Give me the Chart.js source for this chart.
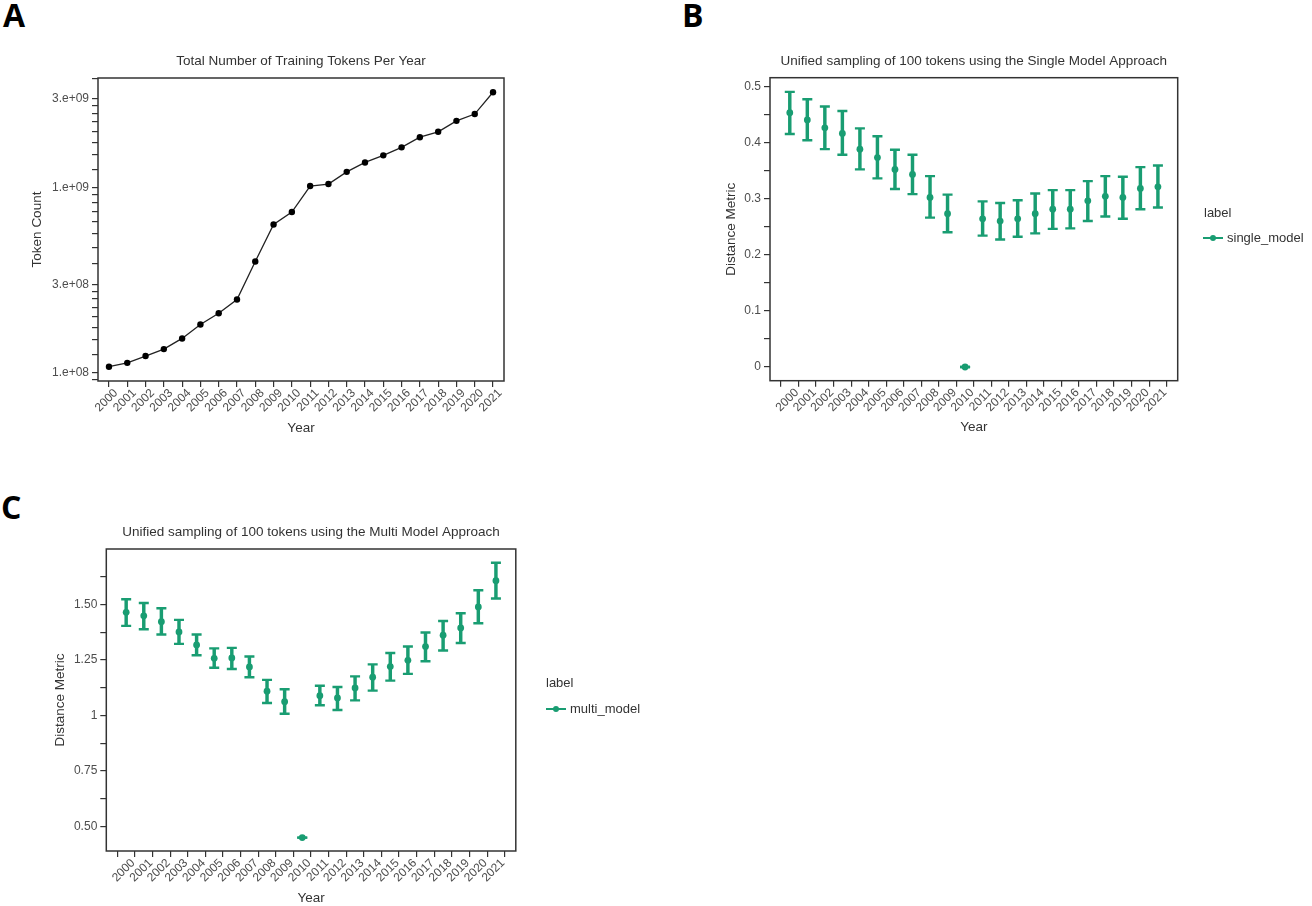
<!DOCTYPE html>
<html>
<head>
<meta charset="utf-8">
<script src="https://cdn.jsdelivr.net/npm/chart.js@4.4.1/dist/chart.umd.min.js"></script>
<style>
body{margin:0;width:1312px;height:906px;background:#fff;position:relative;overflow:hidden;font-family:"Liberation Sans",Arial,sans-serif}
canvas{position:absolute}
.tag{position:absolute;font:bold 32px "Open Sans",sans-serif;line-height:32px;color:#000}
.lgt{position:absolute;font-size:13px;line-height:16px;color:#333;white-space:nowrap}
.sw{position:absolute;height:1.5px;width:20px;background:#199d72}
.dot{position:absolute;width:6px;height:6px;border-radius:50%;background:#199d72}
</style>
</head>
<body>
<div class="tag" style="left:3px;top:-1px">A</div>
<div class="tag" style="left:682px;top:-1px">B</div>
<div class="tag" style="left:1px;top:491px">C</div>

<canvas id="chartA" width="588" height="400" style="left:0;top:40px"></canvas>
<canvas id="chartB" width="534" height="400" style="left:700px;top:40px"></canvas>
<canvas id="chartC" width="609" height="406" style="left:0;top:500px"></canvas>

<div class="lgt" style="left:1204px;top:205px">label</div>
<div class="sw" style="left:1203px;top:237px"></div>
<div class="dot" style="left:1210px;top:235px"></div>
<div class="lgt" style="left:1227px;top:230px">single_model</div>

<div class="lgt" style="left:546px;top:675px">label</div>
<div class="sw" style="left:546px;top:708px"></div>
<div class="dot" style="left:553px;top:706px"></div>
<div class="lgt" style="left:570px;top:701px">multi_model</div>

<script>
// ---- data ----
const years=['2000','2001','2002','2003','2004','2005','2006','2007','2008','2009','2010',
  '2011','2012','2013','2014','2015','2016','2017','2018','2019','2020','2021'];

// A: total training tokens per year (log axis)
const tokenCounts=[1.077e8,1.13e8,1.23e8,1.34e8,1.53e8,1.82e8,2.09e8,2.48e8,3.98e8,6.29e8,7.35e8,
  1.015e9,1.04e9,1.21e9,1.36e9,1.485e9,1.64e9,1.86e9,1.99e9,2.28e9,2.48e9,3.25e9];
const tokenMajorTicks=[1e8,3e8,1e9,3e9];
const tokenTickLabels=['1.e+08','3.e+08','1.e+09','3.e+09'];
const tokenMinorTicks=[9.125e7,1.25e8,1.5e8,1.75e8,2e8,2.25e8,2.5e8,2.75e8,
  3.875e8,4.75e8,5.625e8,6.5e8,7.375e8,8.25e8,9.125e8,
  1.25e9,1.5e9,1.75e9,2e9,2.25e9,2.5e9,2.75e9,3.875e9];

// B: single model approach, mean with error interval
const singleMean=[0.453,0.440,0.426,0.416,0.388,0.373,0.352,0.343,0.302,0.273,0,
  0.264,0.260,0.264,0.273,0.281,0.281,0.296,0.304,0.302,0.318,0.321];
const singleLow=[0.415,0.404,0.388,0.378,0.352,0.336,0.317,0.308,0.266,0.240,0,
  0.234,0.227,0.232,0.238,0.246,0.247,0.260,0.268,0.264,0.281,0.284];
const singleHigh=[0.490,0.477,0.464,0.456,0.425,0.411,0.387,0.378,0.340,0.307,0,
  0.295,0.292,0.297,0.309,0.315,0.315,0.331,0.340,0.339,0.356,0.359];
const singleMajorTicks=[0,0.1,0.2,0.3,0.4,0.5];
const singleTickLabels=['0','0.1','0.2','0.3','0.4','0.5'];
const singleMinorTicks=[0.05,0.15,0.25,0.35,0.45];

// C: multi model approach, mean with error interval
const multiMean=[1.464,1.448,1.422,1.376,1.317,1.257,1.259,1.218,1.109,1.062,0.451,
  1.089,1.079,1.124,1.172,1.220,1.248,1.310,1.361,1.394,1.488,1.606];
const multiLow=[1.403,1.388,1.364,1.322,1.271,1.215,1.209,1.172,1.056,1.008,0.451,
  1.046,1.025,1.068,1.112,1.157,1.187,1.244,1.292,1.326,1.415,1.526];
const multiHigh=[1.523,1.506,1.482,1.430,1.364,1.302,1.304,1.265,1.160,1.118,0.451,
  1.134,1.128,1.176,1.230,1.281,1.310,1.373,1.425,1.460,1.563,1.687];
const multiMajorTicks=[0.5,0.75,1,1.25,1.5];
const multiTickLabels=['0.50','0.75','1','1.25','1.50'];
const multiMinorTicks=[0.625,0.875,1.125,1.375,1.625];

// ---- styling ----
const INK='#333',TICK='#4d4d4d',GREEN='#199d72';
Chart.defaults.font.family='"Liberation Sans", Arial, sans-serif';
Chart.defaults.font.size=12;
Chart.defaults.color=TICK;
Chart.defaults.animation=false;

const frame={id:'frame',afterDatasetsDraw(c){
  const {ctx,chartArea:a}=c;
  ctx.save();ctx.strokeStyle=INK;ctx.lineWidth=1.5;
  ctx.strokeRect(a.left,a.top,a.right-a.left,a.bottom-a.top);
  ctx.restore();
}};

function yearAxis(){
  return {type:'linear',min:-0.6,max:21.6,bounds:'data',
    afterBuildTicks:s=>{s.ticks=years.map((_,i)=>({value:i}));},
    afterFit:s=>{s.height=55;},
    ticks:{autoSkip:false,minRotation:45,maxRotation:45,labelOffset:7,padding:-1,
      callback:v=>years[v]??''},
    grid:{drawOnChartArea:false,tickLength:6,color:INK,lineWidth:1.2},
    border:{display:false},
    title:{display:true,text:'Year',color:INK,font:{size:13.5},padding:0}};
}

function valueAxis(type,min,max,majors,labels,minors,width,text){
  return {type,min,max,bounds:'data',
    afterBuildTicks:s=>{s.ticks=majors.concat(minors).sort((a,b)=>a-b).map(v=>({value:v}));},
    afterFit:s=>{s.width=width;},
    ticks:{autoSkip:false,padding:3,callback:v=>{
      const i=majors.findIndex(m=>Math.abs(m-v)<=Math.abs(m)*1e-6+1e-9);
      return i<0?'':labels[i];}},
    grid:{drawOnChartArea:false,tickLength:6,color:INK,lineWidth:1.2},
    border:{display:false},
    title:{display:true,text,color:INK,font:{size:13.5},padding:{top:4,bottom:4}}};
}

function plugins(text,top,bottom){
  return {title:{display:true,fullSize:false,text,color:INK,font:{size:13.5,weight:'normal'},padding:{top,bottom}},
    legend:{display:false},tooltip:{enabled:false}};
}

// A
new Chart(document.getElementById('chartA'),{
  type:'line',
  data:{datasets:[{data:tokenCounts.map((v,i)=>({x:i,y:v})),borderColor:'#222',borderWidth:1.3,
    pointRadius:3.2,pointBackgroundColor:'#000',pointBorderWidth:0,tension:0}]},
  options:{responsive:false,
    layout:{padding:{left:24.7,right:84,top:0,bottom:4}},
    scales:{x:yearAxis(),
      y:valueAxis('logarithmic',9.02e7,3.88e9,tokenMajorTicks,tokenTickLabels,tokenMinorTicks,73.3,'Token Count')},
    plugins:plugins('Total Number of Training Tokens Per Year',13.6,8.2)},
  plugins:[frame]
});

function errorChart(id,mean,low,high,yAxis,padding,text,tTop,tBottom){
  const pts=a=>a.map((v,i)=>({x:i,y:v}));
  return new Chart(document.getElementById(id),{
    type:'scatter',
    data:{datasets:[
      {type:'bar',data:years.map((_,i)=>({x:i,y:[low[i],high[i]]})),backgroundColor:GREEN,barThickness:2.8},
      {data:pts(high),pointStyle:'line',pointRadius:5,borderColor:GREEN,borderWidth:2.4},
      {data:pts(low),pointStyle:'line',pointRadius:5,borderColor:GREEN,borderWidth:2.4},
      {data:pts(mean),pointRadius:3.4,backgroundColor:GREEN,borderWidth:0}
    ]},
    options:{responsive:false,layout:{padding},
      scales:{x:yearAxis(),y:yAxis},
      plugins:plugins(text,tTop,tBottom)},
    plugins:[frame]
  });
}

// B
errorChart('chartB',singleMean,singleLow,singleHigh,
  valueAxis('linear',-0.0244,0.5153,singleMajorTicks,singleTickLabels,singleMinorTicks,50.8,'Distance Metric'),
  {left:19.2,right:56.3,top:0,bottom:4.3},
  'Unified sampling of 100 tokens using the Single Model Approach',13.6,7.9);

// C
errorChart('chartC',multiMean,multiLow,multiHigh,
  valueAxis('linear',0.3907,1.7487,multiMajorTicks,multiTickLabels,multiMinorTicks,58.4,'Distance Metric'),
  {left:47.9,right:93.2,top:0,bottom:0},
  'Unified sampling of 100 tokens using the Multi Model Approach',24.2,8.6);
</script>
</body>
</html>
